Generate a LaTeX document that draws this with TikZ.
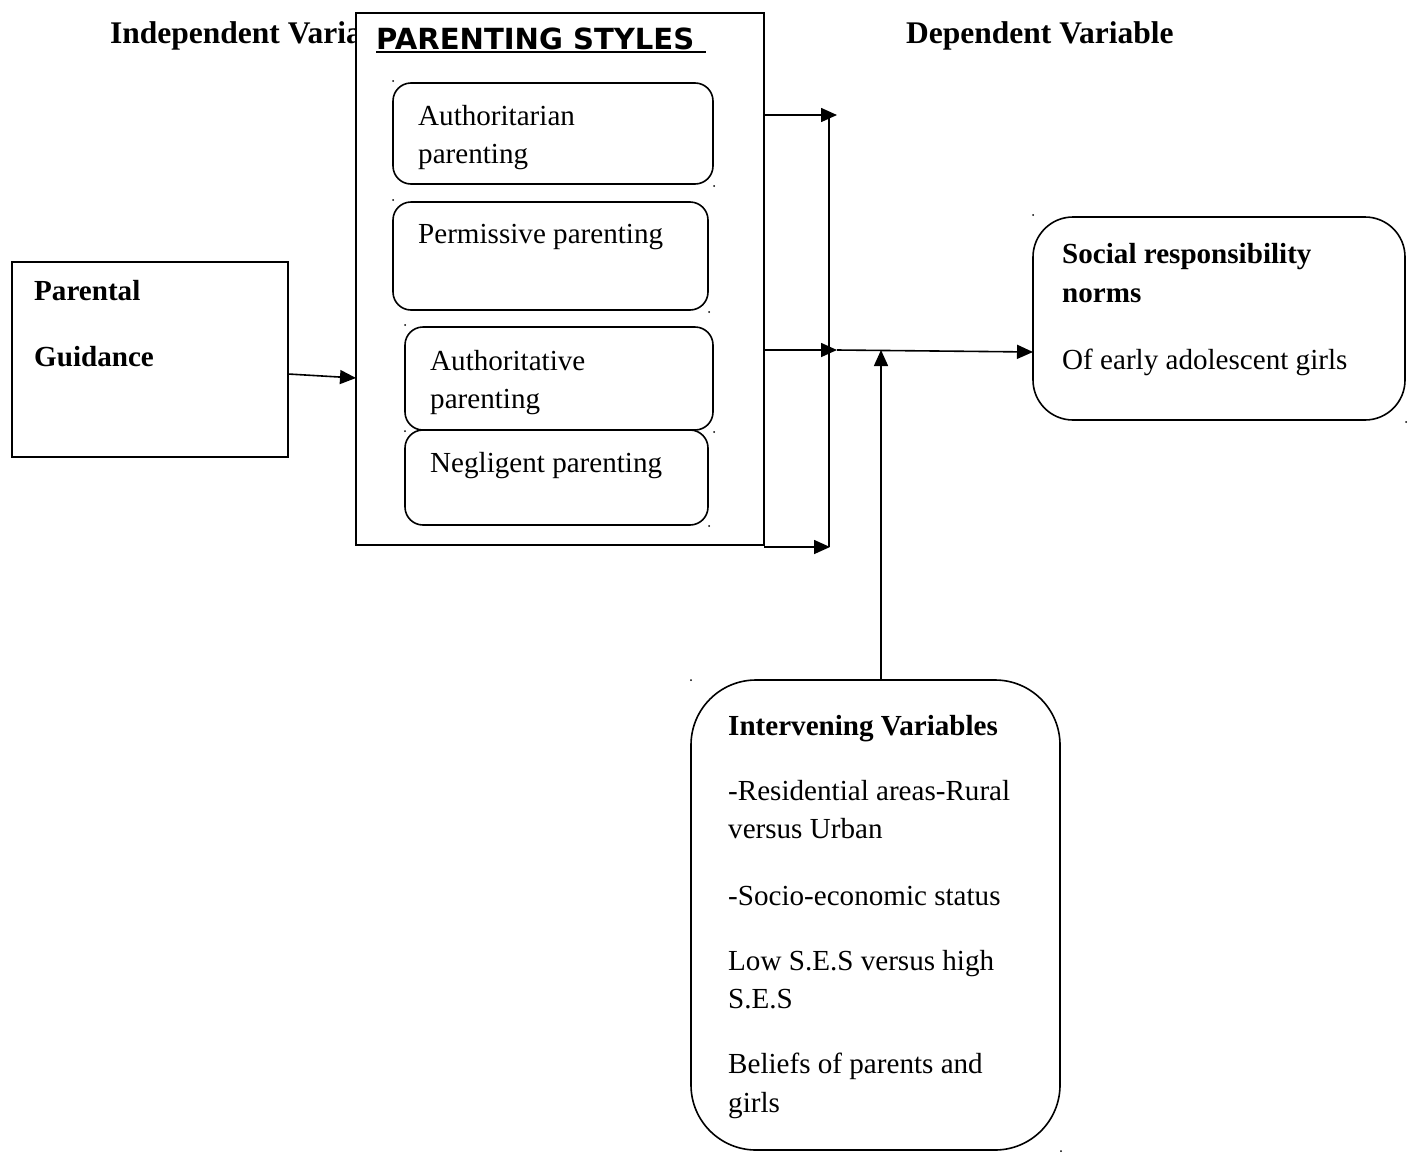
\documentclass[tikz,border=0pt]{standalone}
\usepackage{fontspec}
\setmainfont{Liberation Serif}
\newfontfamily\djv{DejaVu Sans}
\usetikzlibrary{arrows.meta}
\newcommand{\boxat}[6]{\node[#1, minimum width={#4-#2}, minimum height={#5-#3}] (#6) at ({(#2+#4)/2},{(#3+#5)/2}) {};}
\begin{document}
\begin{tikzpicture}[x=1pt,y=-1pt,
  box/.style={draw, line width=1.6pt, inner sep=0pt, outer sep=0pt},
  rbox/.style={box, rounded corners=#1},
  txt/.style={anchor=base west, inner sep=0pt, font=\fontsize{29.1}{35}\selectfont},
  btxt/.style={anchor=base west, inner sep=0pt, font=\fontsize{29.1}{35}\selectfont\bfseries},
  htxt/.style={anchor=base west, inner sep=0pt, font=\fontsize{31.5}{37}\selectfont\bfseries},
  arr/.style={line width=1.6pt, -{Triangle[length=16pt,width=14pt]}},
  ln/.style={line width=1.6pt}]
\useasboundingbox (0,0) rectangle (1413,1162);

% headings
\node[htxt] (indep) at (110,43) {Independent Variable};
\node[htxt] (dep) at (906,43) {Dependent Variable};

% parenting styles box
\boxat{box, fill=white}{356}{13}{764}{545}{ps}
\node[anchor=base west, inner sep=0pt, font=\djv\bfseries\fontsize{29.1}{34}\selectfont] (pstitle) at (376,49) {PARENTING STYLES\ };
\draw[line width=1.6pt] (pstitle.base west) ++(0,3) -- ++(330,0);

\boxat{rbox=18pt}{393}{83}{713}{184}{ar}
\node[txt] (art1) at (418,125) {Authoritarian};
\node[txt] (art2) at (418,163) {parenting};

\boxat{rbox=18pt}{393}{202}{708}{310}{pe}
\node[txt] (pet) at (418,243) {Permissive parenting};

\boxat{rbox=18pt}{405}{327}{713}{430}{av}
\node[txt] (avt1) at (430,370) {Authoritative};
\node[txt] (avt2) at (430,408) {parenting};

\boxat{rbox=18pt}{405}{430}{708}{525}{ne}
\node[txt] (net) at (430,472) {Negligent parenting};

% parental guidance
\boxat{box}{12}{262}{288}{457}{pg}
\node[btxt] (pgt1) at (34,300) {Parental};
\node[btxt] (pgt2) at (34,366) {Guidance};

% social responsibility
\boxat{rbox=40pt}{1033}{217}{1405}{420}{sr}
\node[btxt] (srt1) at (1062,263) {Social responsibility};
\node[btxt] (srt2) at (1062,302) {norms};
\node[txt] (srt3) at (1062,369) {Of early adolescent girls};

% intervening
\boxat{rbox=65pt}{691}{680}{1060}{1150}{iv}
\node[btxt] (ivt1) at (728,735) {Intervening Variables};
\node[txt] (ivt2) at (728,800) {-Residential areas-Rural};
\node[txt] (ivt3) at (728,838) {versus Urban};
\node[txt] (ivt4) at (728,905) {-Socio-economic status};
\node[txt] (ivt5) at (728,970) {Low S.E.S versus high};
\node[txt] (ivt6) at (728,1008) {S.E.S};
\node[txt] (ivt7) at (728,1073) {Beliefs of parents and};
\node[txt] (ivt8) at (728,1112) {girls};

% connectors
\coordinate (t1) at (837,115);
\coordinate (t2) at (837,350);
\coordinate (t3) at (830,547);
\coordinate (vtop) at (829,115);
\coordinate (vbot) at (829,547);
\coordinate (up) at (881,350);

\draw[arr] (pg.east |- 0,374) -- (ps.west |- 0,378);
\draw[arr] (ps.east |- t1) -- (t1);
\draw[arr] (ps.east |- t2) -- (t2);
\draw[arr] (ps.east |- t3) -- (t3);
\draw[ln] (vtop) -- (vbot);
\draw[arr] (t2) -- (sr.west |- 0,352);
\draw[arr] (iv.north -| up) -- (up);

% small corner marks
\foreach \p in {(393,81),(714,186),(393,200),(709,312),(405,325),(405,431),(714,432),(709,526),(1033,215),(1406,422),(691,680),(1061,1151)}
  \fill \p circle (1pt);
\end{tikzpicture}
\end{document}
